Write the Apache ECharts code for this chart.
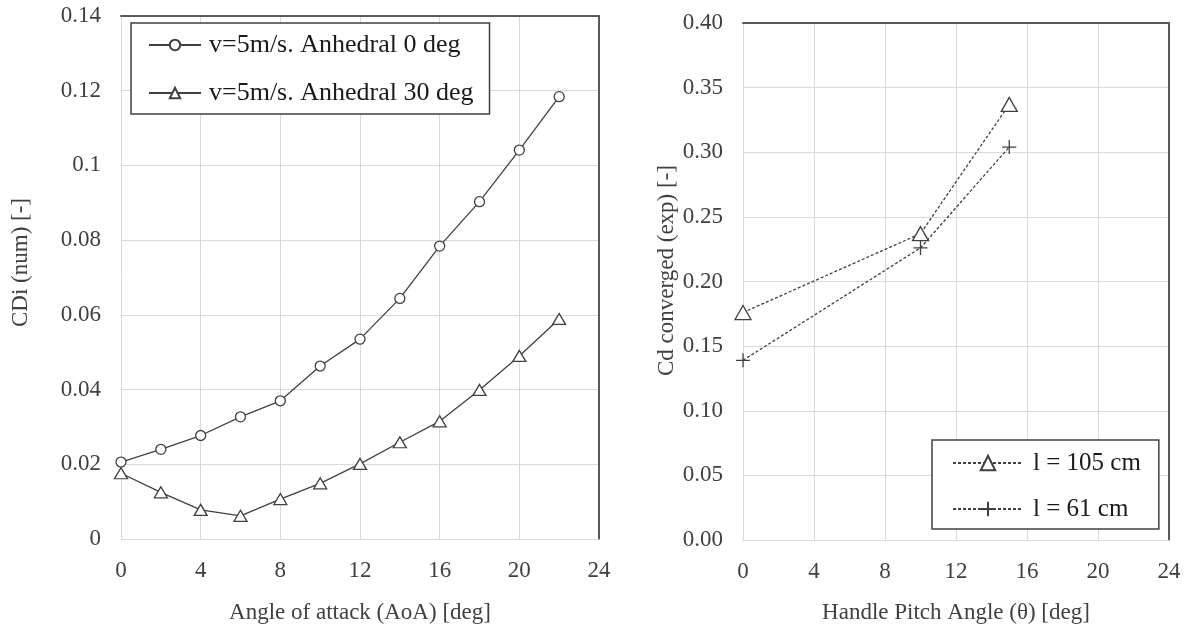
<!DOCTYPE html>
<html>
<head>
<meta charset="utf-8">
<script src="https://cdn.jsdelivr.net/npm/echarts@6/dist/echarts.min.js"></script>
<style>
  html, body { margin: 0; padding: 0; background: #fff; }
  #chart { width: 1190px; height: 637px; }
</style>
</head>
<body>
<div id="chart"></div>
<script>
// Left panel: induced drag coefficient vs angle of attack
const aoa = [0, 2, 4, 6, 8, 10, 12, 14, 16, 18, 20, 22];
const cdiAnhedral0 = [0.0206, 0.0240, 0.0277, 0.0327, 0.0370, 0.0463, 0.0535, 0.0644, 0.0784, 0.0903, 0.1041, 0.1184];
const cdiAnhedral30 = [0.0176, 0.0125, 0.0078, 0.0062, 0.0107, 0.0149, 0.0201, 0.0259, 0.0315, 0.0399, 0.0490, 0.0589];
const leftNames = ['v=5m/s. Anhedral 0 deg', 'v=5m/s. Anhedral 30 deg'];

// Right panel: converged drag coefficient vs handle pitch angle
const pitch = [0, 10, 15];
const cd105 = [0.176, 0.237, 0.337];
const cd61 = [0.139, 0.226, 0.304];
const rightNames = ['l = 105 cm', 'l = 61 cm'];

const FONT = '"Liberation Serif", "Times New Roman", serif';
const TXT = '#404040';
const GRID = '#d9d9d9';
const FRAME = '#595959';

const pairs = (xs, ys) => xs.map((x, i) => [x, ys[i]]);
const plus = 'path://M5,0 L5,10 M0,5 L10,5';

function valueAxis(gridIndex, min, max, interval, fmt, name, nameGap, namePad) {
  return {
    type: 'value', gridIndex, min, max, interval, name,
    nameLocation: 'middle', nameGap, nameMoveOverlap: false,
    nameTextStyle: { fontFamily: FONT, fontSize: 23, color: TXT, padding: namePad },
    axisLine: { show: true, lineStyle: { color: GRID, width: 1 } },
    axisTick: { show: false },
    axisLabel: { fontFamily: FONT, fontSize: 23, color: TXT, margin: 20, formatter: fmt },
    splitLine: { show: true, lineStyle: { color: GRID, width: 1 } }
  };
}
// dark frame line along the top and right edges of each plot
function frameAxis(gridIndex, position) {
  return {
    type: 'value', gridIndex, position, min: 0, max: 1,
    axisLine: { show: true, onZero: false, lineStyle: { color: FRAME, width: 2 } },
    axisTick: { show: false }, axisLabel: { show: false }, splitLine: { show: false }
  };
}

const option = {
  animation: false,
  backgroundColor: '#fff',
  grid: [
    { left: 121, top: 16, width: 478, height: 523 },
    { left: 743, top: 23, width: 426, height: 517 }
  ],
  xAxis: [
    valueAxis(0, 0, 24, 4, v => String(v), 'Angle of attack (AoA) [deg]', 62, [0, 0, 0, 0]),
    valueAxis(1, 0, 24, 4, v => String(v), 'Handle Pitch Angle (\u03b8) [deg]', 61, [0, 0, 0, 0]),
    frameAxis(0, 'top'),
    frameAxis(1, 'top')
  ],
  yAxis: [
    valueAxis(0, 0, 0.14, 0.02, v => String(+v.toFixed(2)), 'CDi (num) [-]', 89, [0, 0, 0, 30]),
    valueAxis(1, 0, 0.40, 0.05, v => v.toFixed(2), 'Cd converged (exp) [-]', 65, [0, 0, 0, 22]),
    frameAxis(0, 'right'),
    frameAxis(1, 'right')
  ],
  legend: [
    {
      data: leftNames, orient: 'vertical', left: 131, top: 23,
      padding: [8, 16, 7, 17], itemGap: 20, itemWidth: 52, itemHeight: 13,
      backgroundColor: '#fff', borderColor: '#404040', borderWidth: 1.5, borderRadius: 0,
      textStyle: { fontFamily: FONT, fontSize: 26, color: '#1a1a1a', lineHeight: 28, padding: [0, 0, 0, 3] }
    },
    {
      data: rightNames, orient: 'vertical', left: 932, top: 440,
      padding: [10, 18, 7, 20], itemGap: 20, itemWidth: 70, itemHeight: 18,
      backgroundColor: '#fff', borderColor: '#404040', borderWidth: 1.5, borderRadius: 0,
      textStyle: { fontFamily: FONT, fontSize: 25, color: '#1a1a1a', lineHeight: 26, padding: [0, 0, 0, 5] }
    }
  ],
  series: [
    {
      name: leftNames[0], type: 'line', xAxisIndex: 0, yAxisIndex: 0,
      data: pairs(aoa, cdiAnhedral0), symbol: 'circle', symbolSize: 10,
      lineStyle: { color: '#404040', width: 1.3 },
      itemStyle: { color: '#fff', borderColor: '#404040', borderWidth: 1.3 }
    },
    {
      name: leftNames[1], type: 'line', xAxisIndex: 0, yAxisIndex: 0,
      data: pairs(aoa, cdiAnhedral30), symbol: 'triangle', symbolSize: [13, 11],
      lineStyle: { color: '#404040', width: 1.3 },
      itemStyle: { color: '#fff', borderColor: '#404040', borderWidth: 1.3 }
    },
    {
      name: rightNames[0], type: 'line', xAxisIndex: 1, yAxisIndex: 1,
      data: pairs(pitch, cd105), symbol: 'triangle', symbolSize: [16, 14],
      lineStyle: { color: '#404040', width: 1.3, type: [3, 2] },
      itemStyle: { color: '#fff', borderColor: '#404040', borderWidth: 1.3 }
    },
    {
      name: rightNames[1], type: 'line', xAxisIndex: 1, yAxisIndex: 1,
      data: pairs(pitch, cd61), symbol: plus, symbolSize: 14,
      lineStyle: { color: '#404040', width: 1.3, type: [3, 2] },
      itemStyle: { color: '#404040', borderColor: '#404040', borderWidth: 1.3 }
    }
  ]
};

echarts.init(document.getElementById('chart'), null, { renderer: 'canvas' }).setOption(option);
</script>
</body>
</html>
